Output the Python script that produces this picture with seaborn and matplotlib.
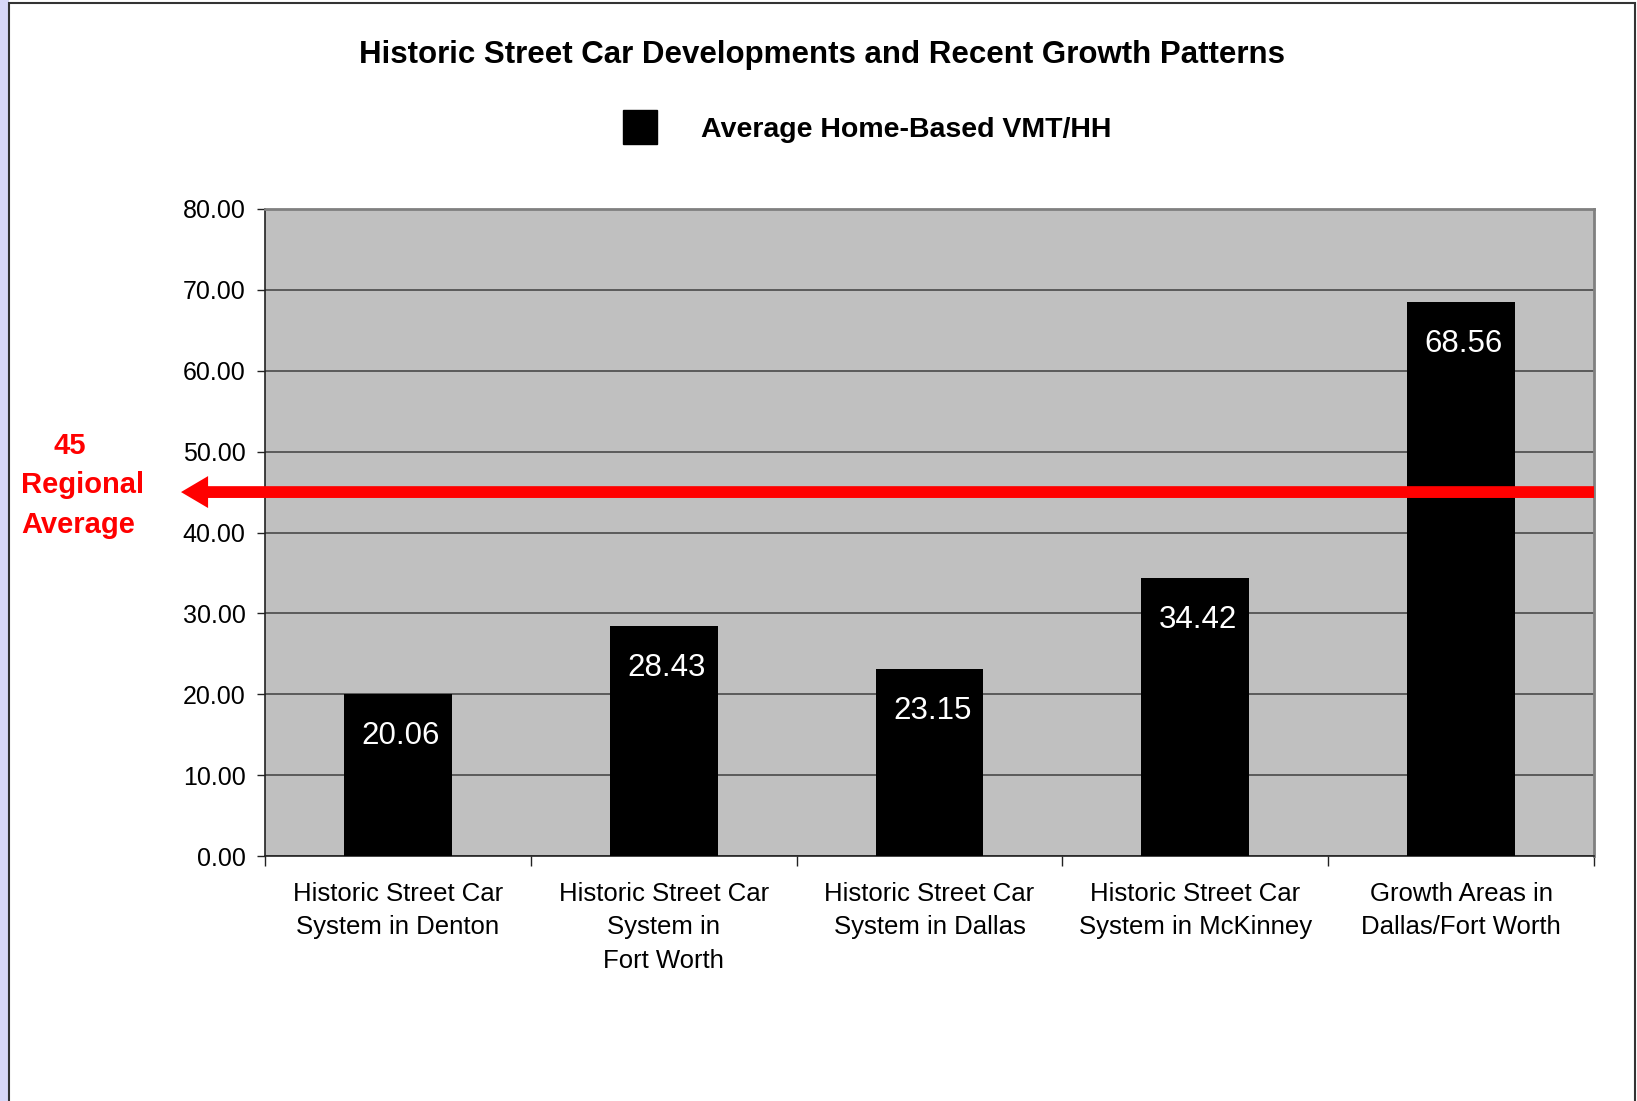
import matplotlib.pyplot as plt
import matplotlib.patches as mpatches
from matplotlib.lines import Line2D
import seaborn as sns
import pandas as pd

categories = ["Historic Street Car\nSystem in Denton",
              "Historic Street Car\nSystem in\nFort Worth",
              "Historic Street Car\nSystem in Dallas",
              "Historic Street Car\nSystem in McKinney",
              "Growth Areas in\nDallas/Fort Worth"]
vmt = [20.06, 28.43, 23.15, 34.42, 68.56]
regional_avg = 45
yticks = [0, 10, 20, 30, 40, 50, 60, 70, 80]

sns.set_style("white")
plt.rcParams['font.family'] = ['Liberation Sans', 'DejaVu Sans']
plt.rcParams['text.color'] = 'black'
plt.rcParams['xtick.color'] = 'black'
plt.rcParams['ytick.color'] = 'black'

W, H = 1637, 1101
fig = plt.figure(figsize=(W / 100, H / 100), dpi=100)

# outer slide frame + lavender strip on the left
fig.patches.append(mpatches.Rectangle((0, 0), 9 / W, 1, transform=fig.transFigure,
                                      facecolor="#d8d8f8", edgecolor="none", zorder=-2))
fig.patches.append(mpatches.Rectangle((9 / W, -0.01), (1635 - 9) / W, 1.01 - 3 / H,
                                      transform=fig.transFigure, facecolor="white",
                                      edgecolor="#333333", linewidth=1.5, zorder=-1))

ax = fig.add_axes([265 / W, (H - 856) / H, 1329 / W, 647 / H])
ax.set_facecolor("#c0c0c0")

df = pd.DataFrame({"cat": categories, "vmt": vmt})
sns.barplot(data=df, x="cat", y="vmt", color="black", saturation=1, width=0.405,
            edgecolor="black", linewidth=0, ax=ax, zorder=3)

ax.set_ylim(0, 80)
ax.set_xlim(-0.5, len(categories) - 0.5)
ax.set_yticks(yticks)
ax.set_yticklabels([f"{v:.2f}" for v in yticks], fontsize=18)
ax.yaxis.grid(True, color="#404040", linewidth=1.1, zorder=1)
ax.set_axisbelow(True)
ax.tick_params(axis="y", left=True, length=6, width=1, pad=8, color="#222222")

# x ticks at category boundaries, labels at centres
ax.set_xticks(range(len(categories)))
ax.set_xticklabels(categories, fontsize=18.5, linespacing=1.5, va="top")
ax.set_xticks([i - 0.5 for i in range(len(categories) + 1)], minor=True)
ax.tick_params(axis="x", which="major", bottom=False, pad=15)
ax.tick_params(axis="x", which="minor", bottom=True, length=7, width=1, color="#222222")
ax.set_xlabel("")
ax.set_ylabel("")

for side in ["left", "bottom"]:
    ax.spines[side].set_color("#222222")
    ax.spines[side].set_linewidth(1.2)
for side in ["top", "right"]:
    ax.spines[side].set_color("#808080")
    ax.spines[side].set_linewidth(2)

for i, v in enumerate(vmt):
    ax.annotate(f"{v:.2f}", xy=(i, v), xytext=(2, -30.5), textcoords="offset points",
                ha="center", va="center", color="white", fontsize=22.5, zorder=5)

# regional average arrow
ax.annotate("", xy=((181 - 265) / 1329, regional_avg), xycoords=ax.get_yaxis_transform(),
            xytext=(1.0, regional_avg), textcoords=ax.get_yaxis_transform(),
            arrowprops=dict(arrowstyle="simple,head_length=1.95,head_width=2.3,tail_width=0.85",
                            mutation_scale=10, color="#ff0000", lw=0, shrinkA=0, shrinkB=0),
            annotation_clip=False, zorder=6)

fig.text(54 / W, 1 - 446 / H, "45", color="#ff0000", fontsize=21, fontweight="bold",
         ha="left", va="center")
fig.text(21 / W, 1 - 485 / H, "Regional", color="#ff0000", fontsize=21, fontweight="bold",
         ha="left", va="center")
fig.text(21 / W, 1 - 525 / H, "Average", color="#ff0000", fontsize=21, fontweight="bold",
         ha="left", va="center")

fig.text(822 / W, 1 - 55 / H, "Historic Street Car Developments and Recent Growth Patterns",
         fontsize=22.5, fontweight="bold", ha="center", va="center")

handle = Line2D([], [], marker="s", linestyle="none", color="black", markersize=24)
fig.legend([handle], ["Average Home-Based VMT/HH"], loc="center",
           bbox_to_anchor=(865 / W, 1 - 130 / H), frameon=False,
           prop={"size": 20.5, "weight": "bold"}, handletextpad=1.4, handlelength=1.5)

fig.savefig("out.png", dpi=100)
